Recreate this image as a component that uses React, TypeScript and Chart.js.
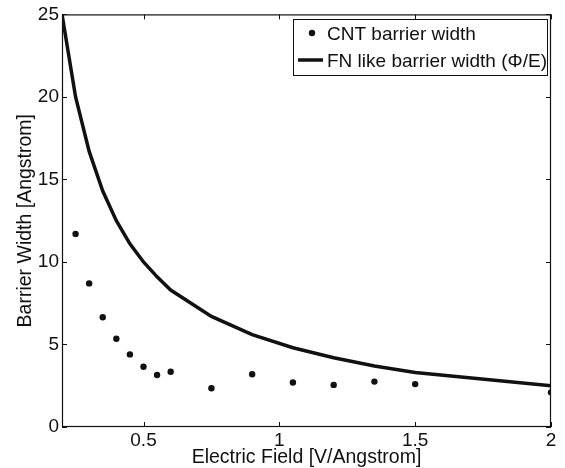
import React, { useEffect, useRef } from "react";
import { Chart, registerables } from "chart.js";

Chart.register(...registerables);

// ---- data ----
const lineField = [0.2, 0.25, 0.3, 0.35, 0.4, 0.45, 0.5, 0.55, 0.6, 0.75, 0.9, 1.05, 1.2, 1.35, 1.5, 2.0];
const fnWidth = [25, 20, 16.7, 14.3, 12.5, 11.1, 10, 9.1, 8.3, 6.7, 5.6, 4.8, 4.2, 3.7, 3.3, 2.5];
const cntField = [0.25, 0.3, 0.35, 0.4, 0.45, 0.5, 0.55, 0.6, 0.75, 0.9, 1.05, 1.2, 1.35, 1.5, 2.0];
const cntWidth = [11.7, 8.7, 6.65, 5.35, 4.4, 3.65, 3.15, 3.35, 2.35, 3.2, 2.7, 2.55, 2.75, 2.6, 2.1];
const xTickValues = [0.5, 1, 1.5, 2];
const yTickValues = [0, 5, 10, 15, 20, 25];
const seriesLabels = ["CNT barrier width", "FN like barrier width (\u03A6/E)"];
const xTitle = "Electric Field [V/Angstrom]";
const yTitle = "Barrier Width [Angstrom]";

const FONT = "'Liberation Sans', Arial, Helvetica, sans-serif";
const INK = "#111111";

const boxPlugin = {
  id: "matlabBox",
  afterDatasetsDraw(chart: any) {
    const { ctx, chartArea: a, scales } = chart;
    ctx.save();
    ctx.strokeStyle = INK;
    ctx.lineWidth = 1.2;
    ctx.strokeRect(a.left + 0.5, a.top + 0.5, a.right - a.left - 1, a.bottom - a.top - 1);
    const tl = 5;
    ctx.lineWidth = 1;
    ctx.beginPath();
    xTickValues.forEach((v) => {
      const px = Math.round(scales.x.getPixelForValue(v)) + 0.5;
      ctx.moveTo(px, a.bottom);
      ctx.lineTo(px, a.bottom - tl);
      ctx.moveTo(px, a.top);
      ctx.lineTo(px, a.top + tl);
    });
    yTickValues.forEach((v) => {
      const py = Math.round(scales.y.getPixelForValue(v)) + 0.5;
      ctx.moveTo(a.left, py);
      ctx.lineTo(a.left + tl, py);
      ctx.moveTo(a.right, py);
      ctx.lineTo(a.right - tl, py);
    });
    ctx.stroke();

    // legend
    const lx = 293, ly = 19, lw = 254, lh = 56;
    ctx.fillStyle = "#ffffff";
    ctx.fillRect(lx, ly, lw, lh);
    ctx.strokeStyle = INK;
    ctx.lineWidth = 1;
    ctx.strokeRect(lx + 0.5, ly + 0.5, lw, lh);
    ctx.fillStyle = INK;
    ctx.beginPath();
    ctx.arc(lx + 19, ly + 14, 3.2, 0, Math.PI * 2);
    ctx.fill();
    ctx.strokeStyle = INK;
    ctx.lineWidth = 3.5;
    ctx.beginPath();
    ctx.moveTo(lx + 5, ly + 41);
    ctx.lineTo(lx + 30, ly + 41);
    ctx.stroke();
    ctx.font = `19px ${FONT}`;
    ctx.textBaseline = "middle";
    ctx.textAlign = "left";
    ctx.fillText(seriesLabels[0], lx + 34, ly + 16);
    ctx.fillText(seriesLabels[1], lx + 34, ly + 43);
    ctx.restore();
  },
};

export default function App() {
  const ref = useRef<HTMLCanvasElement | null>(null);
  useEffect(() => {
    if (!ref.current) return;
    const chart = new Chart(ref.current, {
      type: "line",
      data: {
        datasets: [
          {
            type: "line",
            label: seriesLabels[1],
            data: lineField.map((x, i) => ({ x, y: fnWidth[i] })),
            borderColor: INK,
            borderWidth: 3.5,
            pointRadius: 0,
            tension: 0,
            fill: false,
          },
          {
            type: "scatter",
            label: seriesLabels[0],
            data: cntField.map((x, i) => ({ x, y: cntWidth[i] })),
            backgroundColor: INK,
            borderColor: INK,
            borderWidth: 0,
            pointRadius: 3.2,
            showLine: false,
          } as any,
        ],
      },
      options: {
        responsive: false,
        animation: false,
        devicePixelRatio: 1,
        layout: { padding: { top: 14, right: 14, left: 0, bottom: 0 } },
        plugins: { legend: { display: false }, tooltip: { enabled: false } },
        scales: {
          x: {
            type: "linear",
            min: 0.2,
            max: 2,
            afterBuildTicks: (s: any) => {
              s.ticks = xTickValues.map((v) => ({ value: v }));
            },
            afterFit: (s: any) => {
              s.height = 41;
            },
            grid: { display: false, drawTicks: false },
            border: { display: false },
            ticks: {
              color: INK,
              font: { family: FONT, size: 19, lineHeight: 1.0 },
              padding: 4,
              maxRotation: 0,
              autoSkip: false,
              callback: (v: any) => String(v),
            },
            title: {
              display: true,
              text: xTitle,
              color: INK,
              font: { family: FONT, size: 19.5, lineHeight: 1.0 },
              padding: { top: 0, bottom: 1 },
            },
          },
          y: {
            type: "linear",
            min: 0,
            max: 25,
            afterBuildTicks: (s: any) => {
              s.ticks = yTickValues.map((v) => ({ value: v }));
            },
            afterFit: (s: any) => {
              s.width = 62;
            },
            grid: { display: false, drawTicks: false },
            border: { display: false },
            ticks: {
              color: INK,
              font: { family: FONT, size: 19 },
              padding: 3,
              callback: (v: any) => String(v),
            },
            title: {
              display: true,
              text: yTitle,
              color: INK,
              font: { family: FONT, size: 19.5, lineHeight: 1.0 },
              padding: { top: 16, bottom: 0 },
            },
          },
        },
      },
      plugins: [boxPlugin],
    });
    return () => chart.destroy();
  }, []);
  return (
    <div style={{ position: "absolute", left: 0, top: 0, width: 565, height: 468, background: "#fff" }}>
      <canvas ref={ref} width={565} height={468} />
    </div>
  );
}
